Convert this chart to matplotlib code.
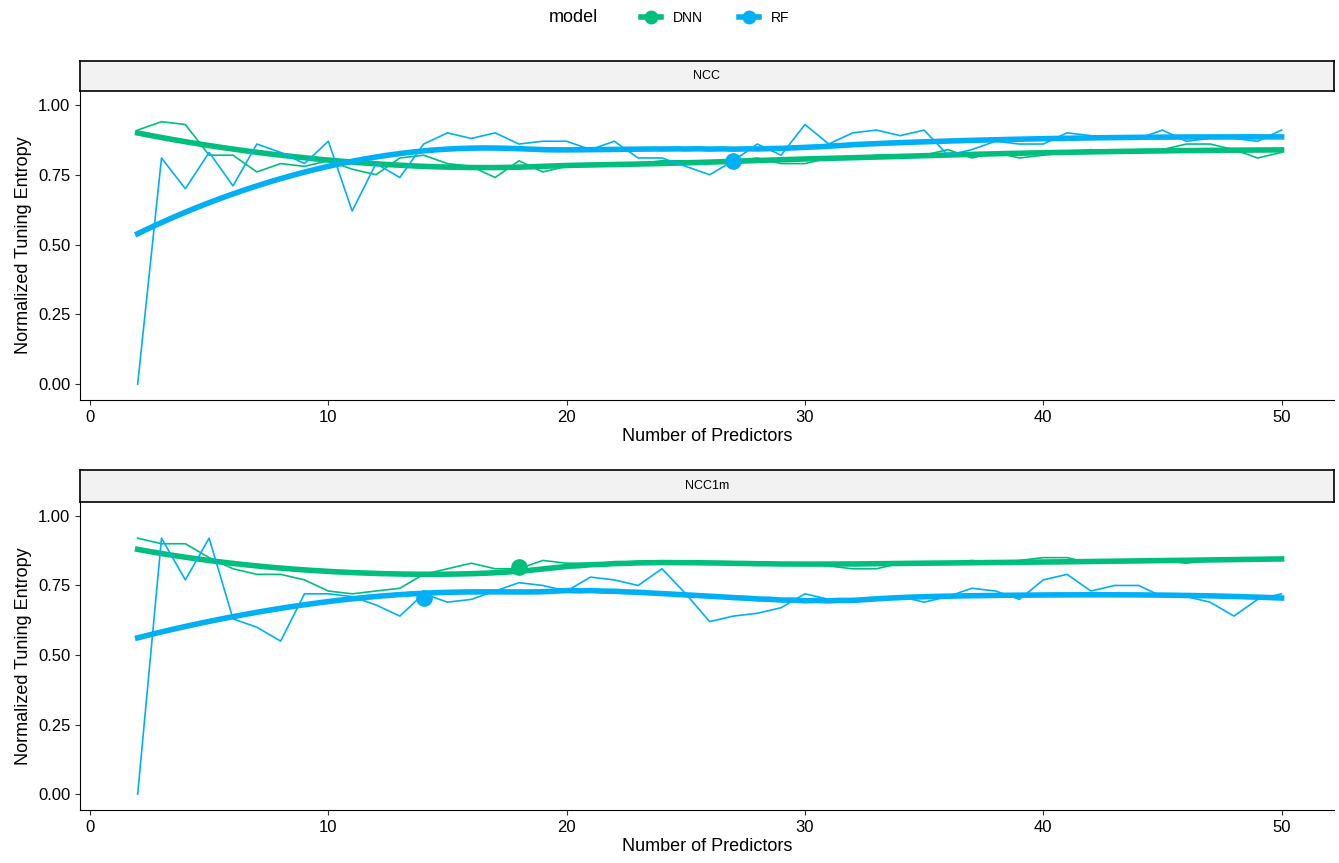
import matplotlib
matplotlib.use('Agg')
import numpy as np
import matplotlib.pyplot as plt
from matplotlib.lines import Line2D

plt.rcParams['font.family'] = ['Liberation Sans', 'DejaVu Sans']

x = np.arange(2, 51)
ncc_dnn = [0.91, 0.94, 0.93, 0.82, 0.82, 0.76, 0.79, 0.78, 0.80, 0.77, 0.75, 0.81, 0.82, 0.79, 0.78, 0.74,
           0.80, 0.76, 0.78, 0.79, 0.78, 0.79, 0.80, 0.80, 0.80, 0.80, 0.81, 0.79, 0.79, 0.81, 0.81, 0.82,
           0.82, 0.82, 0.84, 0.81, 0.83, 0.81, 0.82, 0.83, 0.84, 0.83, 0.84, 0.84, 0.86, 0.86, 0.84, 0.81, 0.83]
ncc_rf = [0.0, 0.81, 0.70, 0.83, 0.71, 0.86, 0.83, 0.79, 0.87, 0.62, 0.79, 0.74, 0.86, 0.90, 0.88, 0.90,
          0.86, 0.87, 0.87, 0.84, 0.87, 0.81, 0.81, 0.78, 0.75, 0.80, 0.86, 0.82, 0.93, 0.86, 0.90, 0.91,
          0.89, 0.91, 0.82, 0.84, 0.87, 0.86, 0.86, 0.90, 0.89, 0.88, 0.88, 0.91, 0.87, 0.88, 0.88, 0.87, 0.91]
ncc1m_dnn = [0.92, 0.90, 0.90, 0.85, 0.81, 0.79, 0.79, 0.77, 0.73, 0.72, 0.73, 0.74, 0.79, 0.81, 0.83, 0.81,
             0.81, 0.84, 0.83, 0.83, 0.83, 0.83, 0.83, 0.83, 0.83, 0.83, 0.83, 0.83, 0.83, 0.82, 0.81, 0.81,
             0.83, 0.83, 0.83, 0.84, 0.83, 0.84, 0.85, 0.85, 0.83, 0.84, 0.84, 0.84, 0.83, 0.84, 0.84, 0.84, 0.85]
ncc1m_rf = [0.0, 0.92, 0.77, 0.92, 0.63, 0.60, 0.55, 0.72, 0.72, 0.71, 0.68, 0.64, 0.72, 0.69, 0.70, 0.73,
            0.76, 0.75, 0.73, 0.78, 0.77, 0.75, 0.81, 0.72, 0.62, 0.64, 0.65, 0.67, 0.72, 0.70, 0.70, 0.70,
            0.71, 0.69, 0.71, 0.74, 0.73, 0.70, 0.77, 0.79, 0.73, 0.75, 0.75, 0.71, 0.71, 0.69, 0.64, 0.70, 0.72]

# highlighted points: (panel, model) -> (x, y)
best = {('NCC', 'RF'): (27, 0.80), ('NCC1m', 'DNN'): (18, 0.815), ('NCC1m', 'RF'): (14, 0.705)}

panels = {'NCC': {'DNN': ncc_dnn, 'RF': ncc_rf}, 'NCC1m': {'DNN': ncc1m_dnn, 'RF': ncc1m_rf}}
COLS = {'DNN': '#00BF7D', 'RF': '#00B0F6'}


def loess(xs, ys, span=0.75):
    xs = np.asarray(xs, float); ys = np.asarray(ys, float)
    k = int(np.ceil(span * len(xs)))
    grid = np.linspace(xs.min(), xs.max(), 200)
    out = []
    for g in grid:
        d = np.abs(xs - g)
        h = np.sort(d)[k - 1]
        w = np.clip(1 - (d / h) ** 3, 0, None) ** 3
        A = np.vstack([np.ones_like(xs), xs - g, (xs - g) ** 2]).T
        W = np.sqrt(w)
        coef = np.linalg.lstsq(A * W[:, None], ys * W, rcond=None)[0]
        out.append(coef[0])
    return grid, np.array(out)


fig = plt.figure(figsize=(13.39, 8.63), dpi=100)
W, H = 1339, 863
boxes = [(91, 400, 61), (502, 810, 470)]
for (name, series), (top, bot, stop) in zip(panels.items(), boxes):
    ax = fig.add_axes([80 / W, 1 - bot / H, (1334 - 80) / W, (bot - top) / H])
    sax = fig.add_axes([80 / W, 1 - top / H, (1334 - 80) / W, (top - stop) / H])
    sax.set_facecolor('#F2F2F2'); sax.set_xticks([]); sax.set_yticks([])
    for s in sax.spines.values():
        s.set_linewidth(1.2)
    sax.text(0.5, 0.5, name, ha='center', va='center', fontsize=9, transform=sax.transAxes)
    for m, ys in series.items():
        ax.plot(x, ys, color=COLS[m], lw=1.2)
        gx, gy = loess(x, ys)
        ax.plot(gx, gy, color=COLS[m], lw=4)
        if (name, m) in best:
            bx, by = best[(name, m)]
            ax.plot(bx, by, 'o', color=COLS[m], ms=11, zorder=5)
    ax.set_xlim(-0.42, 52.2)
    ax.set_ylim(-0.057, 1.05)
    ax.set_xticks([0, 10, 20, 30, 40, 50])
    ax.set_yticks([0, 0.25, 0.5, 0.75, 1.0])
    ax.set_yticklabels(['0.00', '0.25', '0.50', '0.75', '1.00'])
    ax.tick_params(labelsize=12, colors='#333333', labelcolor='black')
    ax.spines['top'].set_visible(False); ax.spines['right'].set_visible(False)
    ax.set_xlabel('Number of Predictors', fontsize=13, labelpad=2)
    ax.set_ylabel('Normalized Tuning Entropy', fontsize=13)

fig.text(549 / W, 1 - 18 / H, 'model', fontsize=13, ha='left', va='center')
handles = [Line2D([], [], color=COLS[m], lw=4, marker='o', ms=9) for m in ['DNN', 'RF']]
fig.legend(handles, ['DNN', 'RF'], loc='center left', ncol=2, frameon=False,
           bbox_to_anchor=(628 / W, 1 - 18 / H), fontsize=10, handlelength=1.5,
           columnspacing=2.6, handletextpad=0.8)
fig.savefig('out.png', dpi=100)
